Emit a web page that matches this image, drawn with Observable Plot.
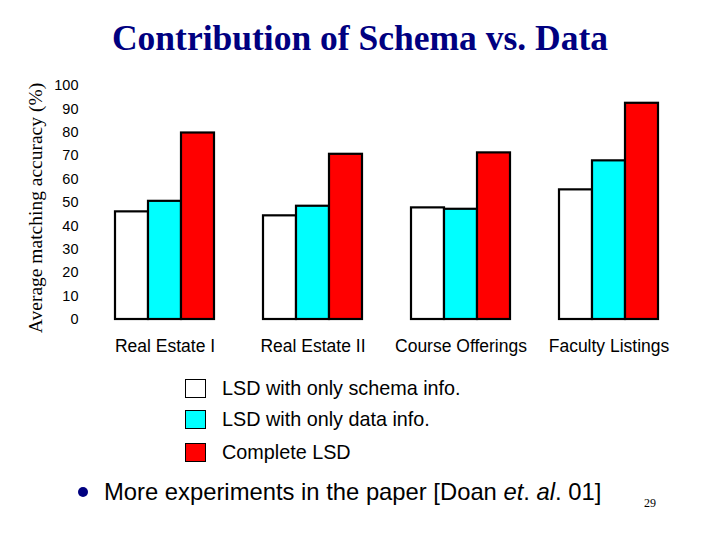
<!DOCTYPE html>
<html>
<head>
<meta charset="utf-8">
<script src="https://cdn.jsdelivr.net/npm/d3@7"></script>
<script src="https://cdn.jsdelivr.net/npm/@observablehq/plot@0.6"></script>
<style>
  body { margin: 0; background: #fff; }
  #page { position: relative; width: 720px; height: 540px; overflow: hidden; font-family: "Liberation Sans", Arial, sans-serif; }
  #title { position: absolute; left: 0; width: 720px; top: 17px; text-align: center; font-family: "Liberation Serif", "Times New Roman", serif; font-weight: bold; font-size: 35.5px; color: #000080; white-space: nowrap; }
  #ylabel { position: absolute; z-index: 2; left: 36px; top: 208px; transform: translate(-50%, -50%) rotate(-90deg); font-family: "Liberation Serif", "Times New Roman", serif; font-size: 19.5px; white-space: nowrap; color: #000; }
  #chart { position: absolute; left: 0; top: 70px; z-index: 1; }
  #chart g[aria-label="fx-axis tick label"] text { font-size: 17.5px; }
  .leg { position: absolute; left: 185px; display: flex; align-items: center; font-size: 19.8px; white-space: nowrap; }
  .sw { width: 19px; height: 17px; border: 1.5px solid #000; margin-right: 16px; }
  #bullet { position: absolute; left: 78px; top: 478px; font-size: 23.8px; white-space: nowrap; display: flex; align-items: center; }
  #dot { width: 10px; height: 10px; border-radius: 50%; background: #000080; margin-right: 16px; }
  #pagenum { position: absolute; left: 644px; top: 496px; font-family: "Liberation Serif", serif; font-size: 12px; }
</style>
</head>
<body>
<div id="page">
  <div id="title">Contribution of Schema vs. Data</div>
  <div id="ylabel"></div>
  <div id="chart"></div>
  <div id="legend"></div>
  <div id="bullet"><span id="dot"></span><span>More experiments in the paper [Doan <i>et</i>. <i>al</i>. 01]</span></div>
  <div id="pagenum">29</div>
</div>
<script>
const categories = ["Real Estate I", "Real Estate II", "Course Offerings", "Faculty Listings"];
const seriesNames = ["LSD with only schema info.", "LSD with only data info.", "Complete LSD"];
const schemaOnly = [46, 44.3, 47.7, 55.4];
const dataOnly = [50.5, 48.4, 47.1, 67.8];
const complete = [79.7, 70.6, 71.2, 92.4];
const seriesColors = ["#ffffff", "#00ffff", "#ff0000"];
const yTicks = [0, 10, 20, 30, 40, 50, 60, 70, 80, 90, 100];
const yLabel = "Average matching accuracy (%)";

const seriesValues = [schemaOnly, dataOnly, complete];
const table = [];
categories.forEach((c, i) => {
  seriesNames.forEach((s, j) => {
    table.push({category: c, series: s, value: seriesValues[j][i]});
  });
});

const chart = Plot.plot({
  width: 720,
  height: 290,
  marginLeft: 90,
  marginRight: 37.5,
  marginTop: 15,
  marginBottom: 41,
  style: {fontFamily: "'Liberation Sans', Arial, sans-serif", fontSize: "14.5px", color: "#000", background: "transparent"},
  fx: {domain: categories, paddingInner: 0.332, paddingOuter: 0.165, label: null, axis: "bottom", tickSize: 0, tickPadding: 20},
  x: {domain: seriesNames, axis: null, padding: 0},
  y: {domain: [0, 100], ticks: yTicks, tickSize: 0, tickPadding: 37, label: null},
  color: {domain: seriesNames, range: seriesColors},
  marks: [
    Plot.barY(table, {fx: "category", x: "series", y: "value", fill: "series", stroke: "#000", strokeWidth: 2.2})
  ]
});
document.getElementById("chart").appendChild(chart);
document.getElementById("ylabel").textContent = yLabel;

const legendTops = [377, 408, 441];
const legend = document.getElementById("legend");
seriesNames.forEach((s, j) => {
  const row = document.createElement("div");
  row.className = "leg";
  row.style.top = legendTops[j] + "px";
  const sw = document.createElement("span");
  sw.className = "sw";
  sw.style.background = seriesColors[j];
  const t = document.createElement("span");
  t.textContent = s;
  row.appendChild(sw);
  row.appendChild(t);
  legend.appendChild(row);
});
</script>
</body>
</html>
